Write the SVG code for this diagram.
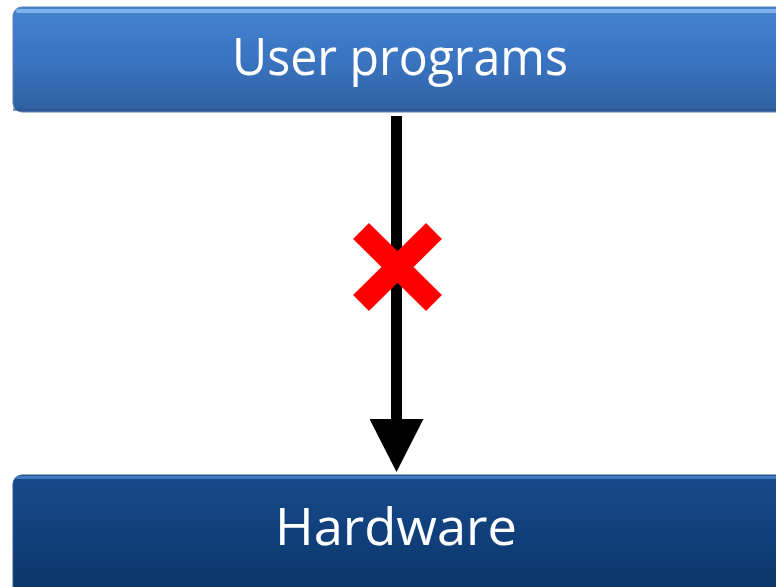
<svg xmlns="http://www.w3.org/2000/svg" width="776" height="587" viewBox="0 0 776 587">
  <style>
    .label { font-family: "Open Sans", "Noto Sans", "Liberation Sans", sans-serif; font-size: 52px; fill: #ffffff; text-anchor: middle; }
  </style>
  <defs>
    <linearGradient id="gradTop" x1="0" y1="0" x2="0" y2="1">
      <stop offset="0" stop-color="#4482d0"/>
      <stop offset="0.5" stop-color="#3a74c0"/>
      <stop offset="1" stop-color="#2f60a2"/>
    </linearGradient>
    <linearGradient id="gradBottom" x1="0" y1="0" x2="0" y2="1">
      <stop offset="0" stop-color="#184a8c"/>
      <stop offset="0.5" stop-color="#103f7a"/>
      <stop offset="1" stop-color="#0b3466"/>
    </linearGradient>
    <!-- arrowhead begins where the shaft ends -->
    <marker id="arrowHead" markerUnits="userSpaceOnUse" markerWidth="54" markerHeight="54" refX="1" refY="27" orient="auto" viewBox="0 0 54 54">
      <path d="M0,0 L53,27 L0,54 Z" fill="#000000"/>
    </marker>
  </defs>

  <rect width="776" height="587" fill="#ffffff"/>

  <g id="user-programs">
    <rect x="13" y="7" width="790" height="105" rx="9" fill="url(#gradTop)" stroke="#5a7fb3" stroke-width="1"/>
    <rect x="16" y="9" width="787" height="4" rx="2" fill="#86bbf0" opacity="0.85"/>
    <rect x="13" y="108" width="790" height="3" fill="#2a5590" opacity="0.6"/>
    <text class="label" x="400" y="75" textLength="336" lengthAdjust="spacingAndGlyphs">User programs</text>
  </g>

  <g id="hardware">
    <rect x="13" y="475" width="790" height="125" rx="9" fill="url(#gradBottom)" stroke="#2d5c99" stroke-width="1"/>
    <rect x="16" y="476" width="787" height="3" rx="1.5" fill="#4f86cc" opacity="0.8"/>
    <text class="label" x="396" y="545" textLength="242" lengthAdjust="spacingAndGlyphs">Hardware</text>
  </g>

  <g id="connectors">
    <line x1="396.5" y1="116" x2="396.5" y2="420" stroke="#000000" stroke-width="11" marker-end="url(#arrowHead)"/>
  </g>

  <g id="blocked-mark">
    <line x1="361" y1="231" x2="434" y2="303" stroke="#ff0000" stroke-width="22.6"/>
    <line x1="434" y1="231" x2="361" y2="303" stroke="#ff0000" stroke-width="22.6"/>
  </g>
</svg>
